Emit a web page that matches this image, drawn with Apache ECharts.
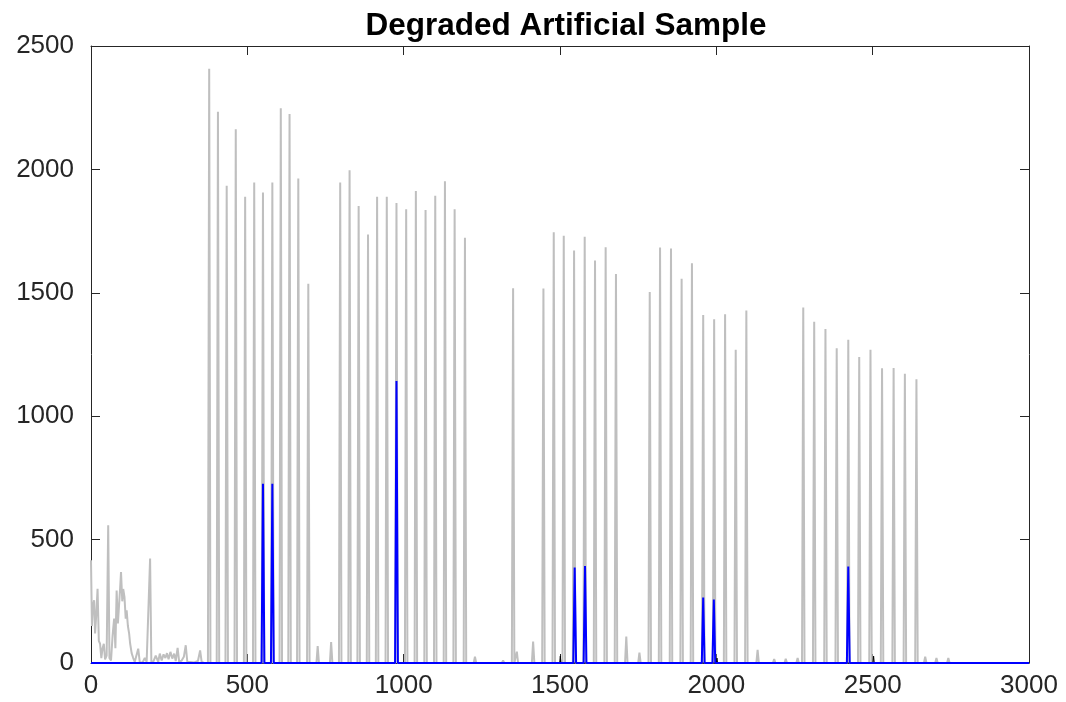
<!DOCTYPE html>
<html>
<head>
<meta charset="utf-8">
<script src="https://cdn.jsdelivr.net/npm/echarts@6/dist/echarts.min.js"></script>
<style>
html,body{margin:0;padding:0;background:#fff;}
#chart{width:1066px;height:702px;}
</style>
</head>
<body>
<div id="chart"></div>
<script>
// ---- data ----
const titleText = 'Degraded Artificial Sample';
const xTickValues = [0, 500, 1000, 1500, 2000, 2500, 3000];
const yTickValues = [0, 500, 1000, 1500, 2000, 2500];

// gray signal: noisy start region (x, y)
const grayNoiseX = [0, 3, 6, 10, 13, 17, 21, 25, 29, 33, 37, 41, 45, 50, 55, 59, 64, 69, 74, 78, 82, 86, 90, 93, 96, 100, 103, 107, 111, 114, 118, 122, 125, 130, 135, 140, 146, 151, 156, 165, 172, 178, 183, 189, 193, 200, 207, 215, 220, 226, 232, 238, 243, 248, 254, 260, 266, 271, 277, 282, 290, 297, 303, 308, 318, 330, 342, 349, 354, 362];
const grayNoiseY = [416, 150, 230, 254, 120, 200, 301, 90, 78, 20, 60, 78, 15, 30, 558, 20, 10, 110, 180, 60, 294, 160, 240, 300, 369, 250, 300, 268, 180, 213, 150, 119, 80, 40, 20, 5, 8, 58, 3, 2, 20, 5, 2, 423, 3, 8, 30, 5, 38, 10, 35, 20, 40, 15, 45, 18, 38, 8, 61, 5, 10, 25, 72, 5, 4, 2, 8, 51, 4, 0];

// gray signal: peaks (position, height)
const grayPeakX = [378, 406, 434, 463, 493, 522, 550, 580, 607, 635, 663, 695, 725, 768,
  797, 827, 856, 886, 915, 946, 977, 1008, 1039, 1070, 1101, 1132, 1163, 1196, 1228, 1318,
  1350, 1362, 1414, 1447, 1480, 1512, 1545, 1579, 1612, 1646, 1679, 1712, 1754,
  1787, 1820, 1855, 1889, 1922, 1958, 1993, 2028, 2062, 2096, 2132, 2185, 2222, 2260,
  2278, 2313, 2349, 2385, 2422, 2457, 2493, 2530, 2567, 2603, 2640, 2668, 2704, 2742];
const grayPeakY = [2408, 2234, 1934, 2163, 1889, 1947, 1906, 1947, 2248, 2224, 1963, 1537, 69, 85,
  1947, 1997, 1852, 1736, 1889, 1889, 1864, 1839, 1912, 1835, 1893, 1952, 1839, 1723, 26, 10,
  1518, 46, 87, 1517, 1745, 1731, 1671, 1727, 1631, 1685, 1576, 107, 42,
  1503, 1684, 1679, 1557, 1620, 1410, 1393, 1413, 1269, 1428, 53, 16, 17, 20,
  1440, 1383, 1353, 1275, 1310, 1240, 1269, 1194, 1195, 1172, 1150, 26, 20, 20];

// black marks
const blackPeakX = [1501, 2002, 2503];
const blackPeakY = [28, 20, 28];

// blue signal peaks
const bluePeakX = [550, 580, 977, 1547, 1580, 1958, 1992, 2422];
const bluePeakY = [726, 726, 1143, 387, 393, 265, 257, 391];

// ---- build line data ----
function spikes(xs, ys, half) {
  const d = [];
  xs.forEach((x, i) => { d.push([x - half, 0], [x, ys[i]], [x + half, 0]); });
  return d;
}
const grayData = grayNoiseX.map((x, i) => [x, grayNoiseY[i]])
  .concat(spikes(grayPeakX, grayPeakY, 4))
  .concat([[3000, 0]]);
const blackData = spikes(blackPeakX, blackPeakY, 2);
const blueData = [[0, 0]].concat(spikes(bluePeakX, bluePeakY, 4.5)).concat([[3000, 0]]);

const axisColor = '#262626';
const font = 'Liberation Sans, Arial, Helvetica, sans-serif';
const plain = v => String(v);

const chart = echarts.init(document.getElementById('chart'), null, {renderer: 'canvas'});
const xMin = xTickValues[0], xMax = xTickValues[xTickValues.length - 1];
const yMin = yTickValues[0], yMax = yTickValues[yTickValues.length - 1];
const xInt = xTickValues[1] - xTickValues[0], yInt = yTickValues[1] - yTickValues[0];

chart.setOption({
  animation: false,
  backgroundColor: '#ffffff',
  title: {
    text: titleText, left: 561, top: 5, textAlign: 'center',
    textStyle: {fontFamily: font, fontSize: 31.5, fontWeight: 'bold', color: '#000'}
  },
  grid: {left: 91, right: 37, top: 46, bottom: 39, containLabel: false},
  xAxis: [
    {type: 'value', position: 'bottom', min: xMin, max: xMax, interval: xInt,
     axisLine: {onZero: false, lineStyle: {color: axisColor, width: 1}},
     axisTick: {inside: true, length: 9, lineStyle: {color: axisColor}},
     axisLabel: {margin: 10, fontFamily: font, fontSize: 26, color: axisColor, formatter: plain},
     splitLine: {show: false}},
    {type: 'value', position: 'top', min: xMin, max: xMax, interval: xInt,
     axisLine: {onZero: false, lineStyle: {color: axisColor, width: 1}},
     axisTick: {inside: true, length: 9, lineStyle: {color: axisColor}},
     axisLabel: {show: false}, splitLine: {show: false}}
  ],
  yAxis: [
    {type: 'value', position: 'left', min: yMin, max: yMax, interval: yInt,
     axisLine: {show: true, onZero: false, lineStyle: {color: axisColor, width: 1}},
     axisTick: {show: true, inside: true, length: 9, lineStyle: {color: axisColor}},
     axisLabel: {margin: 17, fontFamily: font, fontSize: 26, color: axisColor, formatter: plain},
     splitLine: {show: false}},
    {type: 'value', position: 'right', min: yMin, max: yMax, interval: yInt,
     axisLine: {show: true, onZero: false, lineStyle: {color: axisColor, width: 1}},
     axisTick: {show: true, inside: true, length: 9, lineStyle: {color: axisColor}},
     axisLabel: {show: false}, splitLine: {show: false}}
  ],
  series: [
    {name: 'degraded', type: 'line', data: grayData, showSymbol: false, symbol: 'none',
     lineStyle: {color: '#bfbfbf', width: 2}, z: 2},
    {name: 'marks', type: 'line', data: blackData, showSymbol: false, symbol: 'none',
     lineStyle: {color: '#000000', width: 1}, z: 3},
    {name: 'sample', type: 'line', data: blueData, showSymbol: false, symbol: 'none',
     lineStyle: {color: '#0000ff', width: 2}, z: 4}
  ]
});
</script>
</body>
</html>
